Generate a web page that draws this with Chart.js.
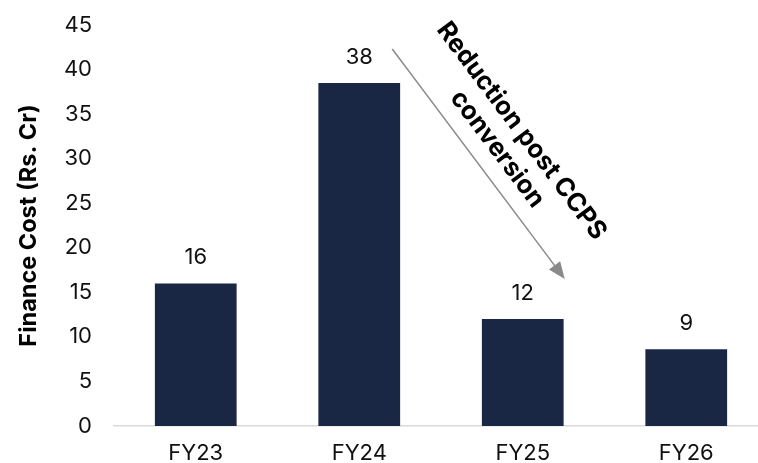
<!DOCTYPE html>
<html>
<head>
<meta charset="utf-8">
<script src="https://cdn.jsdelivr.net/npm/chart.js@4"></script>
<style>
    html, body { margin: 0; padding: 0; background: #fff; overflow: hidden; }
    .wrap { width: 770px; height: 463px; }
</style>
</head>
<body>
<div class="wrap"><canvas id="costChart"></canvas></div>
<script>
const years = ['FY23', 'FY24', 'FY25', 'FY26'];
const financeCost = [16, 38.5, 12, 8.6];
const costLabels = ['16', '38', '12', '9'];
const yTicks = [0, 5, 10, 15, 20, 25, 30, 35, 40, 45];

const FONT = 'Inter, "Liberation Sans", Arial, sans-serif';

// value labels above each bar
const barLabels = {
    id: 'barLabels',
    afterDatasetsDraw(chart) {
        const { ctx } = chart;
        const meta = chart.getDatasetMeta(0);
        ctx.save();
        ctx.font = '22px ' + FONT;
        ctx.fillStyle = '#111';
        ctx.textAlign = 'center';
        ctx.textBaseline = 'middle';
        meta.data.forEach((bar, i) => {
            ctx.fillText(costLabels[i], bar.x, bar.y - 26);
        });
        ctx.restore();
    }
};

// arrow + rotated note between FY24 and FY25
const reductionNote = {
    id: 'reductionNote',
    afterDraw(chart) {
        const { ctx, scales: { x, y } } = chart;
        const x0 = x.getPixelForValue(1) + 33, y0 = y.getPixelForValue(42.3);
        const x1 = x.getPixelForValue(2) + 42, y1 = y.getPixelForValue(16.5);
        const ang = Math.atan2(y1 - y0, x1 - x0);
        ctx.save();
        ctx.strokeStyle = '#8a8a8a';
        ctx.fillStyle = '#8a8a8a';
        ctx.lineWidth = 1.5;
        ctx.beginPath();
        ctx.moveTo(x0, y0);
        ctx.lineTo(x1 - 12 * Math.cos(ang), y1 - 12 * Math.sin(ang));
        ctx.stroke();
        ctx.beginPath();
        ctx.moveTo(x1, y1);
        ctx.lineTo(x1 - 17 * Math.cos(ang) + 7 * Math.sin(ang), y1 - 17 * Math.sin(ang) - 7 * Math.cos(ang));
        ctx.lineTo(x1 - 17 * Math.cos(ang) - 7 * Math.sin(ang), y1 - 17 * Math.sin(ang) + 7 * Math.cos(ang));
        ctx.closePath();
        ctx.fill();

        ctx.translate((x0 + x1) / 2 + 31, (y0 + y1) / 2 - 24);
        ctx.rotate(ang);
        ctx.font = 'bold 25.5px ' + FONT;
        ctx.fillStyle = '#000';
        ctx.textAlign = 'center';
        ctx.textBaseline = 'middle';
        ctx.fillText('Reduction post CCPS', 0, -15);
        ctx.fillText('conversion', 0, 15);
        ctx.restore();
    }
};

new Chart(document.getElementById('costChart'), {
    type: 'bar',
    data: {
        labels: years,
        datasets: [{
            data: financeCost,
            backgroundColor: '#1a2744',
            borderWidth: 0,
            categoryPercentage: 1,
            barPercentage: 0.5
        }]
    },
    options: {
        responsive: true,
        maintainAspectRatio: false,
        animation: false,
        layout: { padding: { top: 25, right: 2, left: 0, bottom: 0 } },
        plugins: {
            legend: { display: false },
            tooltip: { enabled: false }
        },
        scales: {
            x: {
                grid: { display: false, drawTicks: false },
                border: { display: true, color: '#d9d9d9', width: 1.5 },
                ticks: { color: '#111', font: { family: FONT, size: 22 }, padding: 14 },
                afterFit(s) { s.height = 37; }
            },
            y: {
                min: 0,
                max: 45,
                afterBuildTicks(s) { s.ticks = yTicks.map(v => ({ value: v })); },
                grid: { display: false, drawTicks: false },
                border: { display: false },
                ticks: { color: '#111', font: { family: FONT, size: 22 }, padding: 22 },
                title: {
                    display: true,
                    text: 'Finance Cost (Rs. Cr)',
                    color: '#000',
                    font: { family: FONT, size: 23.5, weight: 'bold' },
                    padding: { top: 15, bottom: 0 }
                },
                afterFit(s) {
                    s.width = 114;
                    s.paddingTop = 0;
                    s.paddingBottom = 0;
                }
            }
        }
    },
    plugins: [barLabels, reductionNote]
});
</script>
</body>
</html>
